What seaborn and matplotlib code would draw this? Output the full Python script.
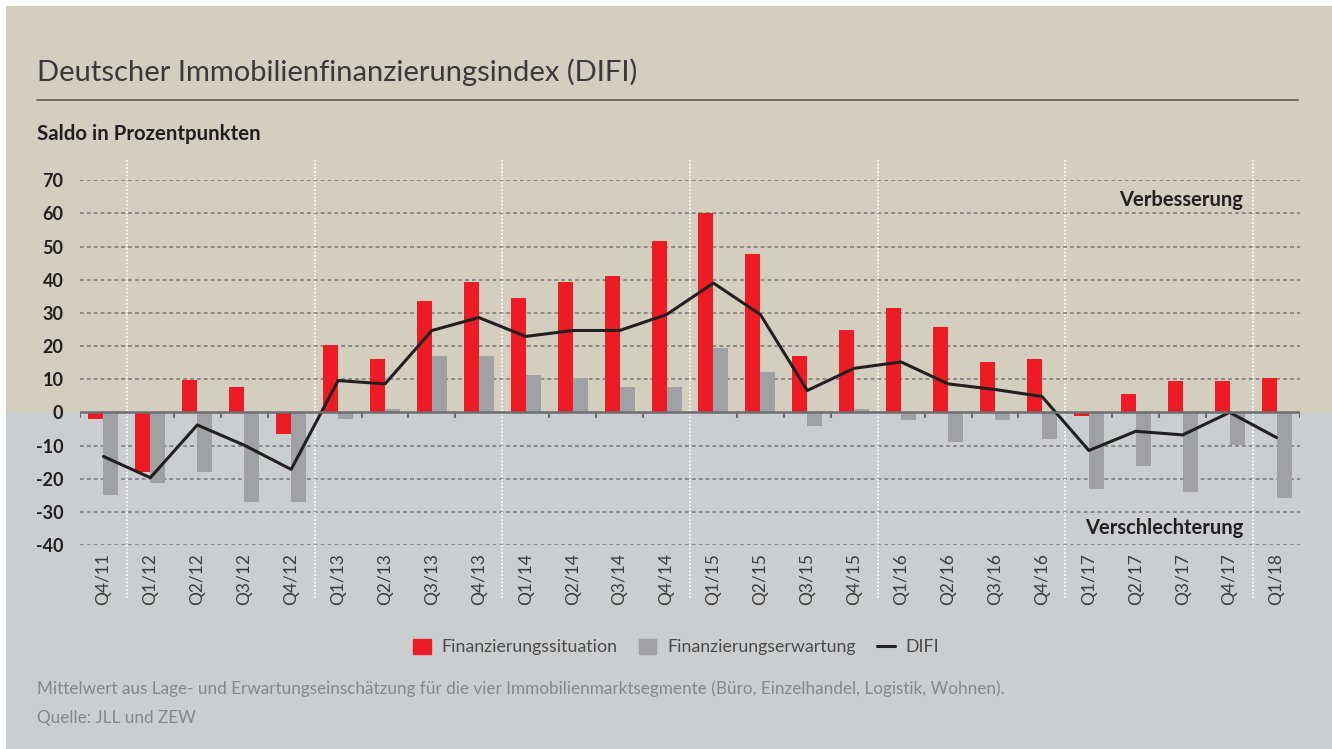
import pandas as pd
import seaborn as sns
import matplotlib.pyplot as plt
from matplotlib.patches import Rectangle, Patch
from matplotlib.lines import Line2D

# Data (Saldo in Prozentpunkten)
quarters = ['Q4/11', 'Q1/12', 'Q2/12', 'Q3/12', 'Q4/12', 'Q1/13', 'Q2/13', 'Q3/13', 'Q4/13',
            'Q1/14', 'Q2/14', 'Q3/14', 'Q4/14', 'Q1/15', 'Q2/15', 'Q3/15', 'Q4/15',
            'Q1/16', 'Q2/16', 'Q3/16', 'Q4/16', 'Q1/17', 'Q2/17', 'Q3/17', 'Q4/17', 'Q1/18']
situation = [-2.0, -18.0, 9.7, 7.8, -6.6, 20.2, 16.2, 33.5, 39.2, 34.4, 39.2, 41.0, 51.6,
             60.1, 47.7, 17.1, 24.7, 31.4, 25.9, 15.3, 16.2, -1.2, 5.6, 9.6, 9.6, 10.5]
expectation = [-24.8, -21.2, -18.1, -26.9, -26.9, -2.1, 1.1, 17.1, 17.1, 11.4, 10.5, 7.8, 7.8,
               19.3, 12.3, -4.0, 1.1, -2.2, -8.9, -2.2, -7.9, -23.0, -16.3, -24.0, -9.7, -25.7]
difi = [-13.3, -19.7, -3.8, -9.9, -17.2, 9.6, 8.6, 24.7, 28.6, 22.9, 24.7, 24.7, 29.5,
        39.0, 29.5, 6.6, 13.3, 15.2, 8.6, 6.9, 4.8, -11.5, -5.7, -6.8, 0.0, -7.6]
series_names = ['Finanzierungssituation', 'Finanzierungserwartung', 'DIFI']
yticks = [-40, -30, -20, -10, 0, 10, 20, 30, 40, 50, 60, 70]

RED = '#ED1C24'
GREY = '#A0A1A5'
LINE = '#231F20'
BEIGE = '#D4CEBE'
BLUEGREY = '#CBCED1'

sns.set_theme(style='white')
plt.rcParams['font.family'] = ['Lato', 'DejaVu Sans']

df = pd.DataFrame({
    'quarter': quarters * 2,
    'value': situation + expectation,
    'series': [series_names[0]] * len(quarters) + [series_names[1]] * len(quarters),
})

W, H = 1332, 749
fig = plt.figure(figsize=(W / 100, H / 100), dpi=100, facecolor='white')

ymin, ymax = -40, 70
ax_l, ax_r, ax_top, ax_bot = 80, 1300, 180.3, 545
ax = fig.add_axes([ax_l / W, 1 - ax_bot / H, (ax_r - ax_l) / W, (ax_bot - ax_top) / H])
ax.set_facecolor('none')

# two-tone background split at the zero line
zero_px = ax_top + (ymax - 0) / (ymax - ymin) * (ax_bot - ax_top)
zero_frac = 1 - zero_px / H
fig.patches.append(Rectangle((6 / W, zero_frac), 1, 1 - 6 / H - zero_frac,
                             transform=fig.transFigure, color=BEIGE, zorder=-10))
fig.patches.append(Rectangle((6 / W, 0), 1, zero_frac,
                             transform=fig.transFigure, color=BLUEGREY, zorder=-10))

sns.barplot(data=df, x='quarter', y='value', hue='series', order=quarters,
            palette=[RED, GREY], width=0.64, saturation=1, errorbar=None,
            legend=False, linewidth=0, ax=ax, zorder=3)
sns.lineplot(x=list(range(len(quarters))), y=difi, color=LINE, linewidth=2.2,
             ax=ax, zorder=4)

ax.set_xlim(-0.5, len(quarters) - 0.5)
ax.set_ylim(ymin, ymax)
ax.set_yticks(yticks)
ax.set_yticklabels([str(t) for t in yticks], fontsize=13, fontweight='bold', color=LINE)
ax.set_xticks(range(len(quarters)))
ax.set_xticklabels(quarters, rotation=90, fontsize=12.5, color='#3C3C3C')
ax.tick_params(axis='both', length=0)
ax.tick_params(axis='y', pad=12)
ax.tick_params(axis='x', pad=6)
ax.set_xlabel('')
ax.set_ylabel('')
for s in ax.spines.values():
    s.set_visible(False)

# dashed horizontal grid
for t in yticks:
    if t != 0:
        ax.axhline(t, color='#76777A', linewidth=1.1, linestyle=(0, (2.5, 2)), zorder=1)
ax.axhline(0, color='#6D6E71', linewidth=1.8, zorder=5)

# year separators and small ticks between quarters
year_bounds = [i + 0.5 for i, q in enumerate(quarters) if q.startswith('Q4')]
for b in year_bounds:
    ax.axvline(b, ymin=-0.145, ymax=1.055, color='white', linewidth=1.1,
               linestyle=(0, (1.2, 1.2)), clip_on=False, zorder=2)
tick_pos = [i - 0.5 for i in range(len(quarters) + 1) if (i - 0.5) not in year_bounds]
ax.vlines(tick_pos, -1.8, 0, color='#6D6E71', linewidth=1.5, zorder=5)

ax.text(0.9535, 64, 'Verbesserung', ha='right', va='center', fontsize=14.5,
        fontweight='bold', color=LINE, transform=ax.get_yaxis_transform())
ax.text(0.9535, -35, 'Verschlechterung', ha='right', va='center', fontsize=14.5,
        fontweight='bold', color=LINE, transform=ax.get_yaxis_transform())

# header
fig.text(37 / W, 1 - 72 / H, 'Deutscher Immobilienfinanzierungsindex (DIFI)',
         fontsize=21, color='#3A3A3A', va='center')
fig.add_artist(Line2D([37 / W, 1298 / W], [1 - 100 / H, 1 - 100 / H],
                      color='#5C5B57', linewidth=1.2, transform=fig.transFigure))
fig.text(37 / W, 1 - 134 / H, 'Saldo in Prozentpunkten', fontsize=14.7,
         fontweight='bold', color=LINE, va='center')

# legend
handles = [Patch(color=RED), Patch(color=GREY), Line2D([], [], color=LINE, linewidth=2.2)]
fig.legend(handles, series_names, loc='center', bbox_to_anchor=(676 / W, 1 - 647 / H),
           ncol=3, frameon=False, handlelength=1.0, handleheight=0.9,
           handletextpad=0.6, columnspacing=1.2, labelcolor='#4A4A4A',
           prop={'size': 12.8})

# footnotes
fig.text(37 / W, 1 - 689 / H,
         'Mittelwert aus Lage- und Erwartungseinschätzung für die vier '
         'Immobilienmarktsegmente (Büro, Einzelhandel, Logistik, Wohnen).',
         fontsize=12.35, color='#85888B', va='center')
fig.text(37 / W, 1 - 718 / H, 'Quelle: JLL und ZEW', fontsize=12.35,
         color='#85888B', va='center')

fig.savefig('out.png', dpi=100, facecolor='white')
